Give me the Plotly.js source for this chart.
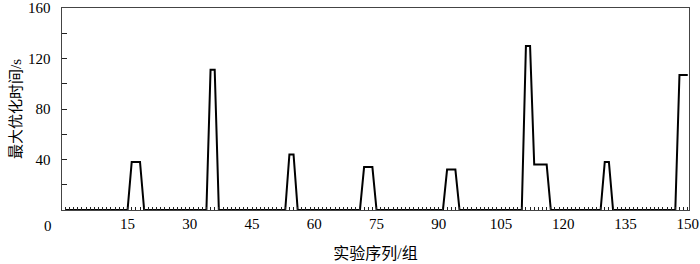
<!DOCTYPE html>
<html>
<head>
<meta charset="utf-8">
<script src="https://cdn.plot.ly/plotly-3.0.1.min.js"></script>
<style>html,body{margin:0;padding:0;background:#fff;}#chart{width:700px;height:264px;}</style>
</head>
<body>
<div id="chart"></div>
<script>
// Maximum optimisation time (s) for each experiment sequence 0..150
var maxTime = [
  0,0,0,0,0,0,0,0,0,0,
  0,0,0,0,0,0,38,38,38,0,
  0,0,0,0,0,0,0,0,0,0,
  0,0,0,0,0,111,111,0,0,0,
  0,0,0,0,0,0,0,0,0,0,
  0,0,0,0,44,44,0,0,0,0,
  0,0,0,0,0,0,0,0,0,0,
  0,0,34,34,34,0,0,0,0,0,
  0,0,0,0,0,0,0,0,0,0,
  0,0,32,32,32,0,0,0,0,0,
  0,0,0,0,0,0,0,0,0,0,
  0,130,130,36,36,36,36,0,0,0,
  0,0,0,0,0,0,0,0,0,0,
  38,38,0,0,0,0,0,0,0,0,
  0,0,0,0,0,0,0,0,107,107,
  107
];
var seqNo = maxTime.map(function(_, i){ return i; });
var xTickVals = [15,30,45,60,75,90,105,120,135,150];
var yTickVals = [40,80,120,160];
var yTickText = ['40\u00a0\u00a0', '80\u00a0\u00a0', '120\u00a0\u00a0', '160\u00a0\u00a0'];
var xTitle = '实验序列/组';
var yTitle = '最大优化时间/s';
var originLabel = '0';

var serif = '"Liberation Serif", "Times New Roman", serif';
var cjk = '"Liberation Serif", "Noto Sans CJK SC", serif';

var trace = {
  x: seqNo, y: maxTime, type: 'scatter', mode: 'lines',
  line: {color: '#000', width: 2},
  hoverinfo: 'skip'
};

var layout = {
  width: 700, height: 264,
  margin: {l: 62, r: 11, t: 8, b: 54},
  paper_bgcolor: '#fff', plot_bgcolor: '#fff',
  showlegend: false,
  font: {family: serif, size: 15, color: '#000'},
  xaxis: {
    range: [-0.8, 150.3],
    tickmode: 'array', tickvals: xTickVals,
    ticks: 'inside', ticklen: 3, tickcolor: '#222', tickwidth: 1,
    minor: {tickmode: 'linear', tick0: 0, dtick: 1, ticks: 'inside', ticklen: 3, tickcolor: '#222', tickwidth: 1},
    showline: true, mirror: true, linecolor: '#444', linewidth: 1,
    showgrid: false, zeroline: false,
    tickfont: {family: serif, size: 15, color: '#000'},
    title: {text: xTitle, font: {family: cjk, size: 16, color: '#000'}, standoff: 16}
  },
  yaxis: {
    range: [0, 160],
    tickmode: 'array', tickvals: yTickVals, ticktext: yTickText,
    ticks: 'inside', ticklen: 5, tickcolor: '#222', tickwidth: 1,
    minor: {tickmode: 'linear', tick0: 0, dtick: 20, ticks: 'inside', ticklen: 5, tickcolor: '#222', tickwidth: 1},
    showline: true, mirror: true, linecolor: '#444', linewidth: 1,
    showgrid: false, zeroline: false,
    tickfont: {family: serif, size: 15, color: '#000'},
    title: {text: yTitle, font: {family: cjk, size: 15, color: '#000'}, standoff: 2}
  },
  annotations: [{
    text: originLabel, xref: 'paper', yref: 'paper',
    x: -0.022, y: -0.077, xanchor: 'center', yanchor: 'middle',
    showarrow: false, font: {family: serif, size: 15, color: '#000'}
  }]
};

Plotly.newPlot('chart', [trace], layout, {staticPlot: true, displayModeBar: false});
</script>
</body>
</html>
